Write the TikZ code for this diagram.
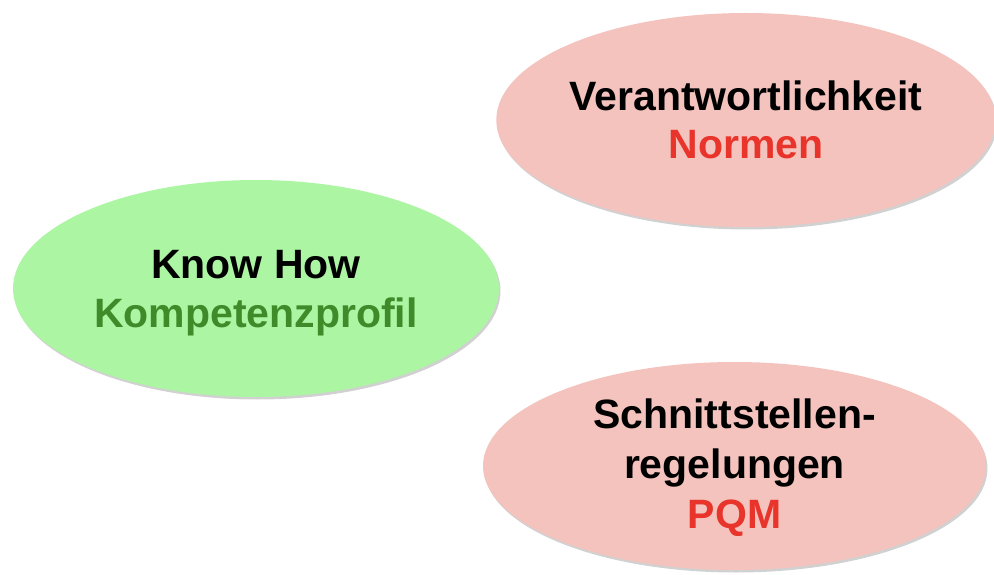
\documentclass[tikz,border=0pt]{standalone}
\usepackage{fontspec}
\setmainfont{Liberation Sans}
\usetikzlibrary{shapes.geometric,shadows}

\definecolor{pinkfill}{HTML}{F4C3BD}
\definecolor{greenfill}{HTML}{ABF5A3}
\definecolor{redtext}{HTML}{E8342A}
\definecolor{greentext}{HTML}{3F8B2A}

\begin{document}
\begin{tikzpicture}[x=1pt,y=1pt,
  bubble/.style={ellipse,inner sep=0pt,align=center,
    font=\fontsize{41}{48.5}\selectfont\bfseries,
    drop shadow={shadow xshift=1.5pt,shadow yshift=-2.5pt,opacity=.3,fill=black!60}},
  pinkbubble/.style={bubble,fill=pinkfill},
  greenbubble/.style={bubble,fill=greenfill}]
\useasboundingbox (0,0) rectangle (994,574);

\node[pinkbubble,minimum width=494pt,minimum height=214pt](v1) at (746,454)
  {Verantwortlichkeit\\\textcolor{redtext}{Normen}};
\node[greenbubble,minimum width=486pt,minimum height=217pt](v2) at (256,285.5)
  {\rule{0pt}{38pt}Know How\\[0.5pt]\textcolor{greentext}{Kompetenzprofil}};
\node[pinkbubble,minimum width=503pt,minimum height=208pt](v3) at (734.5,108)
  {\rule{0pt}{34pt}Schnittstellen-\\[1.5pt]regelungen\\[1.5pt]\textcolor{redtext}{PQM}};

\end{tikzpicture}
\end{document}
